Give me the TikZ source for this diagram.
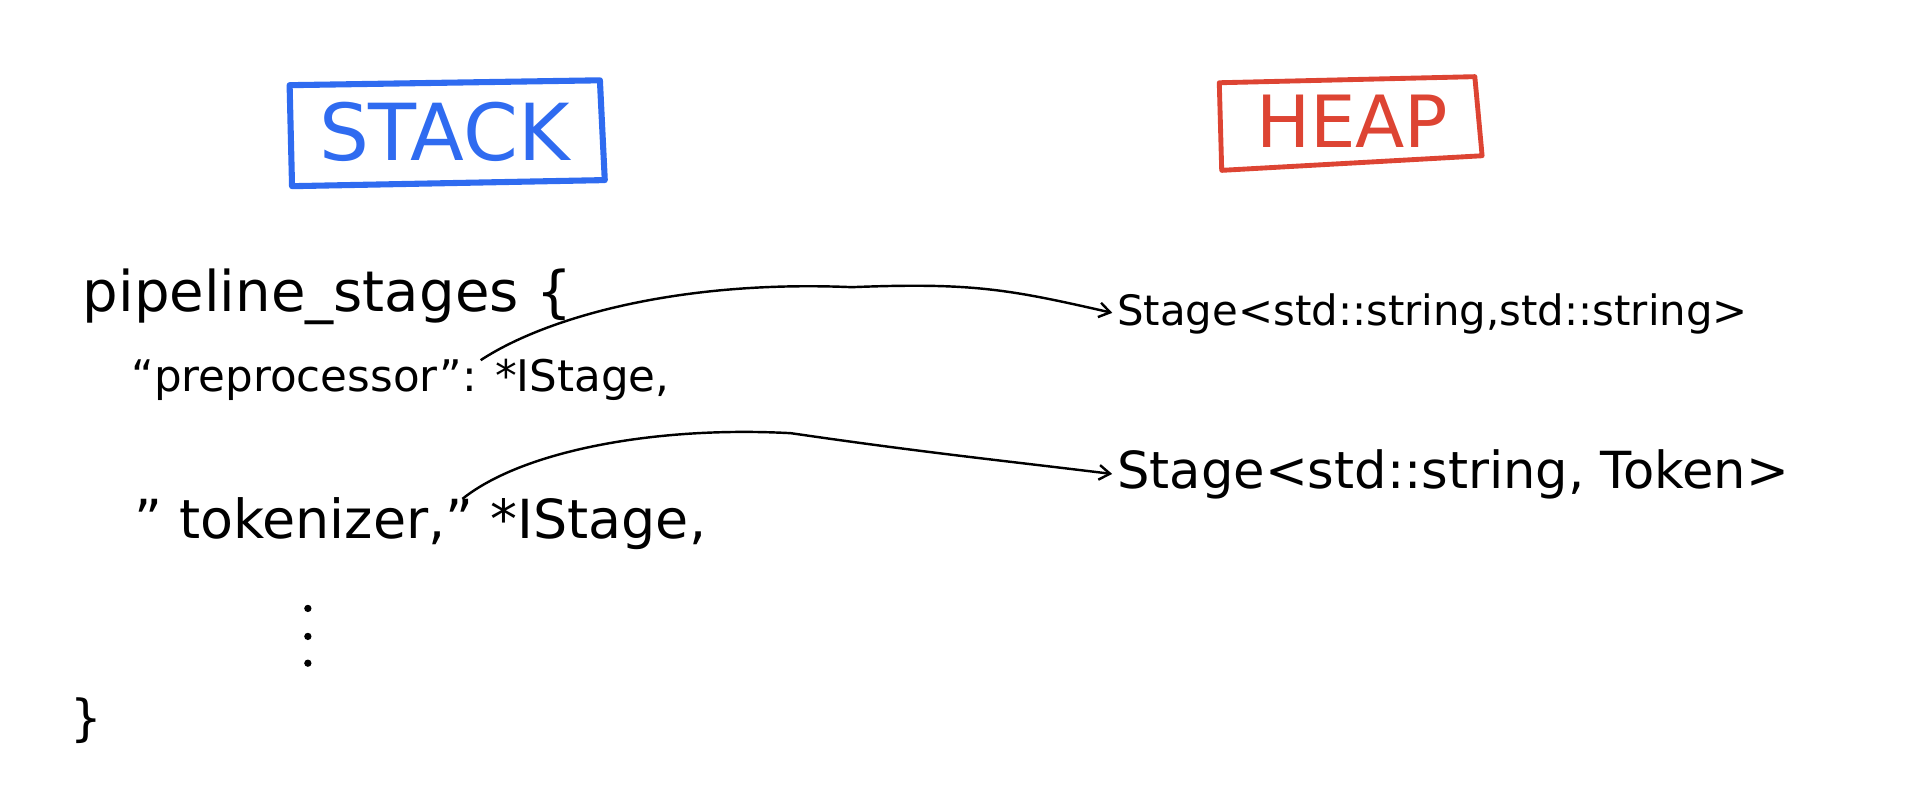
\documentclass[tikz,border=0pt]{standalone}
\usepackage{fontspec}
\setmainfont{DejaVu Sans}
\usepackage{graphicx}
\usetikzlibrary{arrows.meta}
\definecolor{sblue}{HTML}{2F6BF0}
\definecolor{hred}{HTML}{DD4433}
\newcommand\fitw[2]{\resizebox{#1pt}{!}{#2}}
\begin{document}
\begin{tikzpicture}[x=1pt,y=-1pt,
  txt/.style={inner sep=0pt,anchor=west},
  dot/.style={circle,fill=black,inner sep=0pt,minimum size=6pt},
  ptr/.style={line width=2pt,-{Straight Barb[length=9pt,width=12pt]},shorten >=4pt}]
\useasboundingbox (0,0) rectangle (1568,658);
% STACK / HEAP
\draw[sblue,line width=5pt,line join=round] (238,70) -- (493,66) -- (497,148) -- (240,153) -- cycle;
\node[txt,sblue] (stack) at (262,108) {\fitw{206}{STACK}};
\draw[hred,line width=4pt,line join=round] (1002,68) -- (1212,63) -- (1218,128) -- (1004,140) -- cycle;
\node[txt,hred] (heap) at (1032,100) {\fitw{158}{HEAP}};
% stack text
\node[txt] (pipe) at (68,244) {\fitw{402}{pipeline\_stages \{}};
\node[txt] (pre) at (108,312) {\fitw{442}{“preprocessor”: *IStage,}};
\node[txt] (tok) at (110,430) {\fitw{470}{" tokenizer," *IStage,}};
\node[dot] (d1) at (253,500) {};
\node[dot] (d2) at (253,523) {};
\node[dot] (d3) at (253,545) {};
\node[txt] (close) at (58,592) {\fitw{26}{\}}};
% heap text
\node[txt] (s1) at (918,258) {\fitw{518}{Stage<std::string,std::string>}};
\node[txt] (s2) at (918,390) {\fitw{552}{Stage<std::string, Token>}};
% pointers
\coordinate (p1) at (395,296);
\coordinate (p2) at (380,410);
\draw[ptr] (p1) .. controls (450,260) and (560,230) .. (700,236) .. controls (800,232) and (830,238) .. (s1.west);
\draw[ptr] (p2) .. controls (430,370) and (540,350) .. (650,356) .. controls (760,372) and (820,378) .. (s2.west);
\end{tikzpicture}
\end{document}
